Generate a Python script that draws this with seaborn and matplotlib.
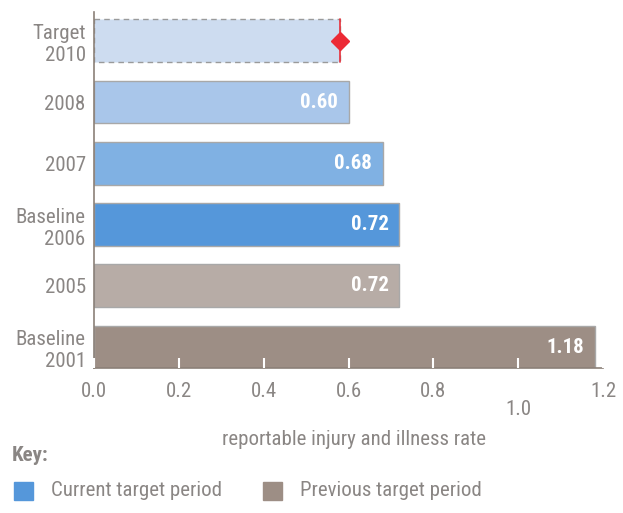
import matplotlib
matplotlib.use("Agg")
import matplotlib.pyplot as plt
import matplotlib.patches as mpatches
from matplotlib import font_manager
import seaborn as sns
import pandas as pd

# data
categories = ["Target\n2010", "2008", "2007", "Baseline\n2006", "2005", "Baseline\n2001"]
rates = [0.58, 0.60, 0.68, 0.72, 0.72, 1.18]
value_labels = ["", "0.60", "0.68", "0.72", "0.72", "1.18"]
bar_colors = ["#cddcf0", "#a9c6ea", "#80b1e3", "#5597da", "#b7aca6", "#9d8e85"]
xticks = [0.0, 0.2, 0.4, 0.6, 0.8, 1.0, 1.2]
target_value = 0.58

sns.set_style("white")
# pick a narrow font if one is there
names = {f.name for f in font_manager.fontManager.ttflist}
narrow = [n for n in ["Liberation Sans Narrow", "Roboto Condensed", "Open Sans Condensed",
                      "DejaVu Sans Condensed"] if n in names]
plt.rcParams["font.family"] = narrow + ["DejaVu Sans"]
plt.rcParams["font.stretch"] = "condensed"

grey_text = "#8a8684"
spine_col = "#8b8078"
fs = 15

df = pd.DataFrame({"cat": categories, "rate": rates})

fig = plt.figure(figsize=(6.23, 5.13), dpi=100)
ax = fig.add_axes([0.151, 0.2827, 0.817, 0.694])

sns.barplot(data=df, y="cat", x="rate", hue="cat", palette=bar_colors, saturation=1,
            width=0.7, legend=False, ax=ax, edgecolor="#a8a8a8", linewidth=1)

# target bar: dashed outline
tgt = ax.patches[0]
tgt.set_linestyle((0, (4, 3)))
tgt.set_edgecolor("#9a9a9a")

# red marker line + diamond for target
ax.plot([target_value, target_value], [-0.35, 0.35], color="#e8303a", lw=1.2, zorder=5)
ax.plot(target_value, 0, marker="D", color="#ec2a35", markersize=9, zorder=6)

# value labels inside bars
for i, (v, lab) in enumerate(zip(rates, value_labels)):
    if lab:
        ax.text(v - 0.025, i, lab, ha="right", va="center", color="white",
                fontsize=fs, fontweight="bold")

ax.set_axisbelow(False)  # ticks on top of the bars
ax.set_xlim(0, 1.2)
ax.set_ylim(5.34, -0.47)
ax.set_xticks(xticks)
ax.set_xticklabels([f"{t:.1f}" for t in xticks])
for lbl in ax.get_xticklabels():
    if lbl.get_text() == "1.0":
        lbl.set_y(-0.05)
ax.tick_params(axis="x", bottom=True, direction="in", length=7, width=1.5, color="white",
               labelsize=fs, labelcolor=grey_text, pad=10)
ax.xaxis.get_major_ticks()[0].tick1line.set_color(spine_col)
ax.xaxis.get_major_ticks()[-1].tick1line.set_color(spine_col)
ax.tick_params(axis="y", length=0, labelsize=fs, labelcolor=grey_text, pad=6)
ax.set_ylabel("")
ax.set_xlabel("reportable injury and illness rate", fontsize=fs, color=grey_text)
ax.xaxis.set_label_coords(0.51, -0.175)

for s in ["top", "right"]:
    ax.spines[s].set_visible(False)
for s in ["left", "bottom"]:
    ax.spines[s].set_color(spine_col)
    ax.spines[s].set_linewidth(1.2)

# key
fig.text(0.019, 0.112, "Key:", fontsize=fs, fontweight="bold", color=grey_text, va="center")
fig.patches.append(mpatches.Rectangle((0.022, 0.025), 0.031, 0.036,
                                      transform=fig.transFigure, color="#5597da"))
fig.text(0.082, 0.043, "Current target period", fontsize=fs, color=grey_text, va="center")
fig.patches.append(mpatches.Rectangle((0.422, 0.025), 0.031, 0.036,
                                      transform=fig.transFigure, color="#9d8e85"))
fig.text(0.482, 0.043, "Previous target period", fontsize=fs, color=grey_text, va="center")

fig.savefig("out.png", dpi=100)
